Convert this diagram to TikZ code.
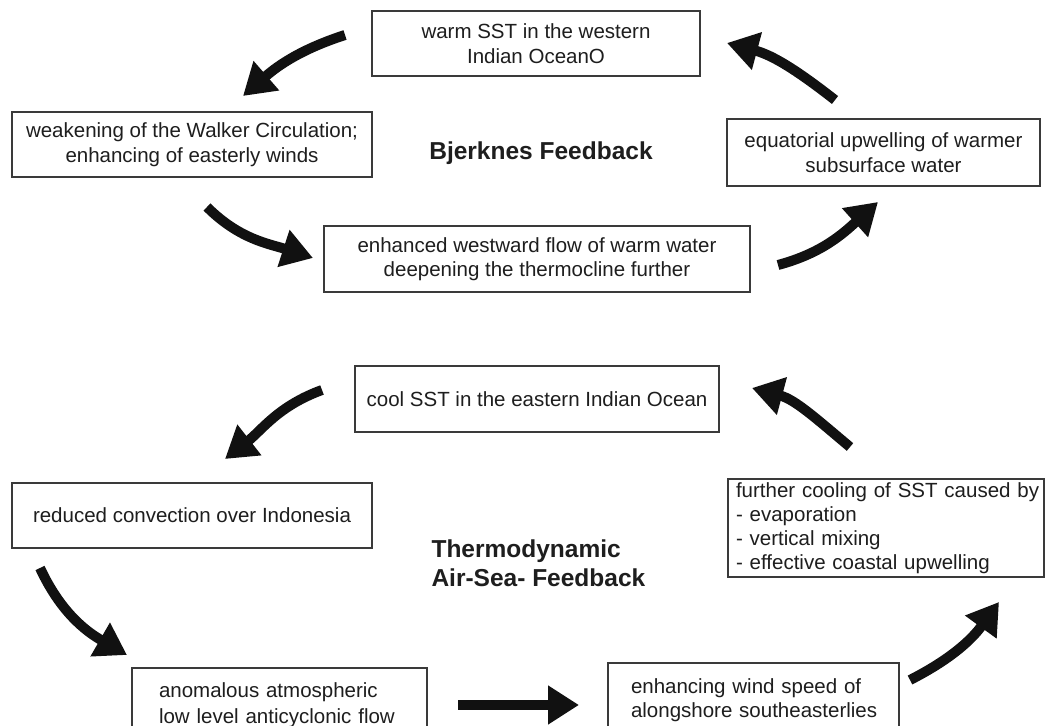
\documentclass[tikz,border=0pt]{standalone}
\usepackage{fontspec}
\setmainfont{Liberation Sans}
\usetikzlibrary{arrows.meta}
\definecolor{boxgray}{HTML}{3A3A3A}
\definecolor{txt}{HTML}{1E1E1E}
\definecolor{arr}{HTML}{111111}
\begin{document}
\begin{tikzpicture}[x=1pt,y=1pt,
  box/.style={draw=boxgray, line width=1.2pt, inner sep=0pt, font=\fontsize{20.5}{24.5}\selectfont, align=center, text=txt},
  bigarrow/.style={line width=10pt, draw=arr, -{Triangle[length=31pt,width=37pt]}},
  title/.style={font=\fontsize{24.5}{29}\selectfont\bfseries, text=txt, align=left}
]
\useasboundingbox (0,0) rectangle (1045,726);
\clip (0,0) rectangle (1045,726);
\fill[white] (0,0) rectangle (1045,726);

% Bjerknes feedback
\node[box, minimum width=328pt, minimum height=65pt] (warm) at (536,682.5) {warm SST in the western\\Indian OceanO};
\node[box, minimum width=360pt, minimum height=65pt] (walker) at (192,581.5) {weakening of the Walker Circulation;\\enhancing of easterly winds};
\node[box, minimum width=313pt, minimum height=67pt] (upw) at (883.5,573.5) {equatorial upwelling of warmer\\subsurface water};
\node[box, minimum width=426pt, minimum height=66pt] (flow) at (537,467) {enhanced westward flow of warm water\\deepening the thermocline further};
\node[title, align=center] (bj) at (541,573) {Bjerknes Feedback};

% Thermodynamic feedback
\node[box, minimum width=364pt, minimum height=66pt] (cool) at (537,327) {cool SST in the eastern Indian Ocean};
\node[box, minimum width=360pt, minimum height=65pt] (conv) at (192,210.5) {reduced convection over Indonesia};
\node[box, minimum height=98pt, text width=300pt, inner xsep=8pt, align=left, font=\fontsize{20.5}{24}\selectfont] (further) at (886,198) {\mbox{further cooling of SST caused by}\\\mbox{- evaporation}\\\mbox{- vertical mixing}\\\mbox{- effective coastal upwelling}};
\node[box, minimum height=74pt, text width=241pt, inner xsep=27pt, align=left, font=\fontsize{20.5}{26}\selectfont] (anom) at (279.5,21) {\mbox{anomalous atmospheric}\\\mbox{low level anticyclonic flow}};
\node[box, minimum height=74pt, text width=245pt, inner xsep=23pt, align=left, font=\fontsize{20.5}{24.5}\selectfont] (wind) at (753.5,26) {\mbox{enhancing wind speed of}\\\mbox{alongshore southeasterlies}};
\node[title, anchor=west] (thermo) at (428,163) {Thermodynamic\\Air-Sea- Feedback};

% arrow end points
\coordinate (t1) at (345,691); \coordinate (h1) at (243,630);
\coordinate (t2) at (835,626); \coordinate (h2) at (727,683);
\coordinate (t3) at (207,519); \coordinate (h3) at (313,468);
\coordinate (t4) at (778,461); \coordinate (h4) at (878,524);
\coordinate (t5) at (322,336); \coordinate (h5) at (225,267);
\coordinate (t6) at (850,279); \coordinate (h6) at (752,338);
\coordinate (t7) at (40,158);  \coordinate (h7) at (127,71);
\coordinate (t8) at (458,21);  \coordinate (h8) at (579,21);
\coordinate (t9) at (910,46);  \coordinate (h9) at (999,124);

\draw[bigarrow] (t1) to[out=198,in=41] (h1);
\draw[bigarrow] (t2) to[out=142,in=-15] (h2);
\draw[bigarrow] (t3) to[out=-45,in=162] (h3);
\draw[bigarrow] (t4) to[out=15,in=222] (h4);
\draw[bigarrow] (t5) to[out=200,in=38] (h5);
\draw[bigarrow] (t6) to[out=140,in=-15] (h6);
\draw[bigarrow] (t7) to[out=-65,in=150] (h7);
\draw[bigarrow] (t8) -- (h8);
\draw[bigarrow] (t9) to[out=27,in=234] (h9);
\end{tikzpicture}
\end{document}
